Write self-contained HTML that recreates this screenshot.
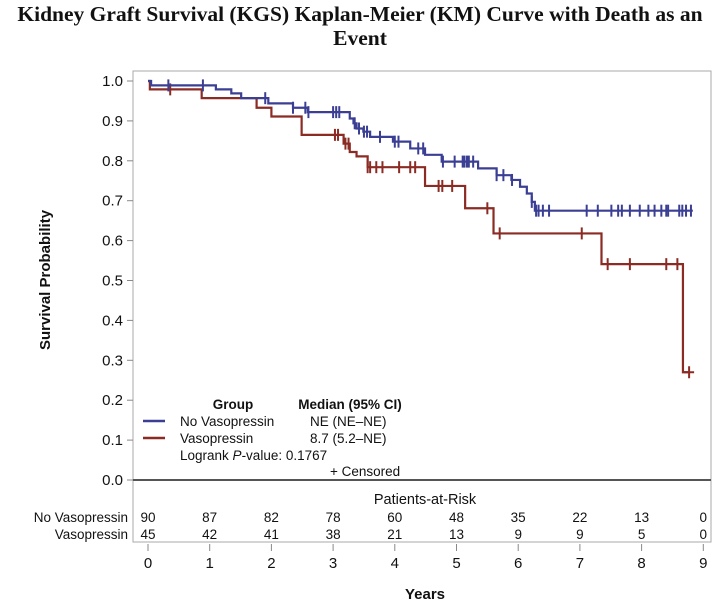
<!DOCTYPE html>
<html><head><meta charset="utf-8"><style>
body{margin:0;background:#fff;}
svg text{font-family:"Liberation Sans",Arial,sans-serif;fill:#111;}
</style></head><body>
<svg id="chart" width="719" height="601" viewBox="0 0 719 601" xmlns="http://www.w3.org/2000/svg">
<text x="360" y="21" text-anchor="middle" style="font-family:'Liberation Serif',serif;font-weight:bold;font-size:21.5px">Kidney Graft Survival (KGS) Kaplan-Meier (KM) Curve with Death as an</text>
<text x="360" y="45" text-anchor="middle" style="font-family:'Liberation Serif',serif;font-weight:bold;font-size:21.5px">Event</text>
<rect x="133" y="71" width="578" height="471" fill="none" stroke="#aaa" stroke-width="1"/>
<line x1="133" y1="480" x2="711" y2="480" stroke="#555" stroke-width="2"/>
<text transform="translate(50,280) rotate(-90)" text-anchor="middle" font-size="15" font-weight="bold">Survival Probability</text>
<text x="425" y="599" text-anchor="middle" font-size="15" font-weight="bold">Years</text>
<g id="yaxis"></g>
<g id="xaxis"></g>
<g id="curves"></g>
<g font-size="13.5">
<text x="233" y="409" text-anchor="middle" font-weight="bold">Group</text>
<text x="350" y="409" text-anchor="middle" font-weight="bold">Median (95% CI)</text>
<line x1="143" y1="421" x2="165" y2="421" stroke="#3b3f94" stroke-width="2.5"/>
<text x="180" y="426">No Vasopressin</text>
<text x="310" y="426">NE (NE–NE)</text>
<line x1="143" y1="438" x2="165" y2="438" stroke="#8b2b24" stroke-width="2.5"/>
<text x="180" y="443">Vasopressin</text>
<text x="310" y="443">8.7 (5.2–NE)</text>
<text x="180" y="460">Logrank <tspan font-style="italic">P</tspan>-value: 0.1767</text>
<text x="330" y="476">+ Censored</text>
</g>
<text x="425" y="504" text-anchor="middle" font-size="14.5">Patients-at-Risk</text>
<text x="128" y="522" text-anchor="end" font-size="13.5">No Vasopressin</text>
<text x="128" y="539" text-anchor="end" font-size="13.5">Vasopressin</text>
<g id="risk"></g>
</svg>
<script>
const yTicks=[0,0.1,0.2,0.3,0.4,0.5,0.6,0.7,0.8,0.9,1.0];
const xTicks=[0,1,2,3,4,5,6,7,8,9];
const riskNoVaso=[90,87,82,78,60,48,35,22,13,0];
const riskVaso=[45,42,41,38,21,13,9,9,5,0];
const blueTimes=[0,0.05,1.1,1.35,1.51,1.95,2.35,2.59,3.27,3.33,3.38,3.49,3.6,3.97,4.25,4.49,4.76,5.35,5.65,5.89,6.03,6.14,6.22,6.27];
const blueSurv=[1.0,0.989,0.979,0.969,0.957,0.944,0.933,0.922,0.906,0.894,0.881,0.873,0.860,0.848,0.831,0.815,0.798,0.781,0.764,0.752,0.735,0.718,0.697,0.675];
const blueEnd=8.83;
const blueCensor=[0.33,0.89,1.9,2.35,2.55,2.6,3.0,3.05,3.1,3.35,3.42,3.5,3.55,3.76,4.0,4.06,4.38,4.46,4.78,4.97,5.1,5.13,5.17,5.2,5.27,5.65,5.76,5.9,6.22,6.29,6.33,6.4,6.5,7.11,7.29,7.51,7.62,7.68,7.81,7.97,8.11,8.21,8.32,8.4,8.43,8.61,8.66,8.72,8.8];
const redTimes=[0,0.03,0.87,1.76,2.0,2.49,3.17,3.27,3.38,3.56,4.49,5.14,5.6,7.35,8.67];
const redSurv=[1.0,0.979,0.957,0.933,0.911,0.865,0.843,0.822,0.811,0.784,0.737,0.681,0.618,0.541,0.27];
const redEnd=8.77;
const redCensor=[0.36,3.03,3.08,3.2,3.25,3.56,3.6,3.7,3.8,4.07,4.25,4.33,4.71,4.77,4.93,5.5,5.7,7.03,7.45,7.81,8.4,8.58,8.77];
const NS="http://www.w3.org/2000/svg";
const X=t=>148+t*61.7, Y=v=>480-v*399;
function mk(tag,attrs,parent){const e=document.createElementNS(NS,tag);for(const k in attrs)e.setAttribute(k,attrs[k]);parent.appendChild(e);return e;}
const ya=document.getElementById('yaxis'),xa=document.getElementById('xaxis'),cv=document.getElementById('curves'),rk=document.getElementById('risk');
yTicks.forEach(v=>{
 const l=mk('line',{x1:127,x2:133,y1:Y(v),y2:Y(v),stroke:'#888'},ya);
 
 
 const t=mk('text',{x:123,y:Y(v)+5,'text-anchor':'end','font-size':15},ya);t.textContent=v.toFixed(1);
 
 
});
xTicks.forEach((v,i)=>{
 const l=mk('line',{x1:X(v),x2:X(v),y1:544,y2:551,stroke:'#888'},xa);
 
 
 const t=mk('text',{x:X(v),y:568,'text-anchor':'middle','font-size':15},xa);t.textContent=v;
 
 
 const a=mk('text',{x:X(v),y:522,'text-anchor':'middle','font-size':13.5},rk);a.textContent=riskNoVaso[i];
 
 
 const b=mk('text',{x:X(v),y:539,'text-anchor':'middle','font-size':13.5},rk);b.textContent=riskVaso[i];
 
 
});
function stepOf(times,surv,t){let s=surv[0];for(let i=0;i<times.length;i++){if(times[i]<=t)s=surv[i];}return s;}
function draw(times,surv,end,cens,color,name){
 let d='M'+X(times[0])+','+Y(surv[0]);
 for(let i=1;i<times.length;i++){d+=' H'+X(times[i])+' V'+Y(surv[i]);}
 d+=' H'+X(end);
 const p=mk('path',{d:d,fill:'none',stroke:color,'stroke-width':2.2},cv);
 
 
 cens.forEach(t=>{const y=Y(stepOf(times,surv,t));
  const c=mk('path',{d:'M'+X(t)+','+(y-6)+' V'+(y+6)+(t>=end-0.01?' M'+(X(t)-5)+','+y+' H'+(X(t)+5):''),stroke:color,'stroke-width':2},cv);
  
  
 });
}
draw(redTimes,redSurv,redEnd,redCensor,'#8b2b24','vasopressin');
draw(blueTimes,blueSurv,blueEnd,blueCensor,'#3b3f94','no-vasopressin');
</script>
</body></html>
